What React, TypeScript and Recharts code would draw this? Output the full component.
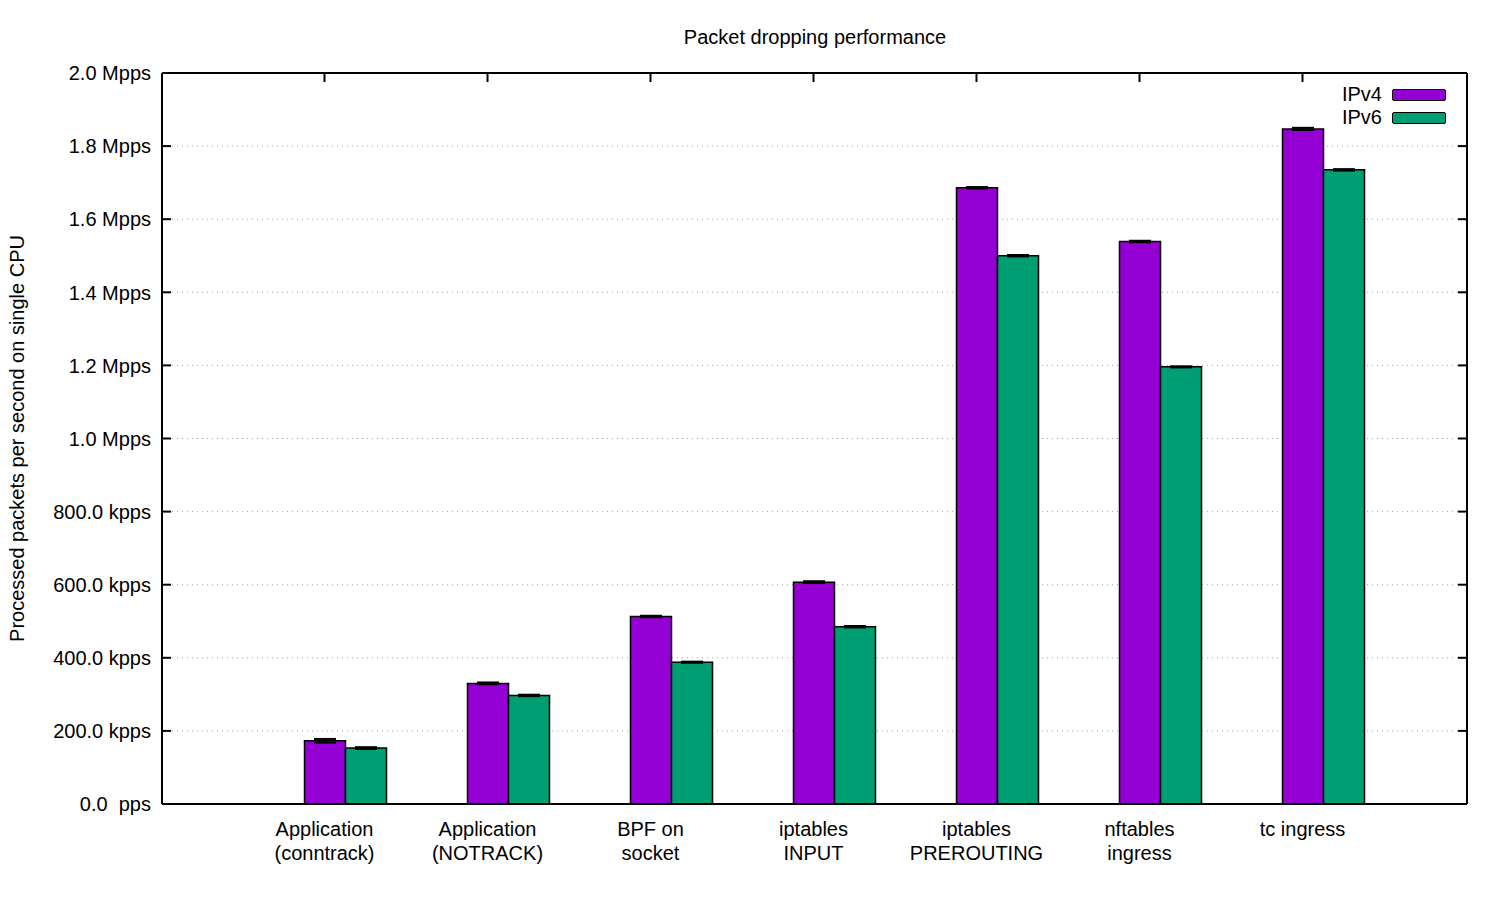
import React from 'react';
import { BarChart, Bar, XAxis, YAxis, CartesianGrid, ErrorBar } from 'recharts';

// categories (two label lines each)
const CATEGORIES = [
  ['Application', '(conntrack)'],
  ['Application', '(NOTRACK)'],
  ['BPF on', 'socket'],
  ['iptables', 'INPUT'],
  ['iptables', 'PREROUTING'],
  ['nftables', 'ingress'],
  ['tc ingress', ''],
];

// packets per second
const IPV4 = [173000, 330000, 513000, 607000, 1686000, 1539000, 1847000];
const IPV4_ERR = [5000, 2500, 2000, 2500, 2000, 2000, 3000];
const IPV6 = [153000, 297000, 388000, 485000, 1500000, 1196000, 1735000];
const IPV6_ERR = [2500, 2000, 1500, 2000, 2000, 1500, 2000];

const Y_TICKS = [0, 200000, 400000, 600000, 800000, 1000000, 1200000, 1400000, 1600000, 1800000, 2000000];

const SERIES = [
  { key: 'ipv4', err: 'ipv4Err', name: 'IPv4', color: '#9400d3' },
  { key: 'ipv6', err: 'ipv6Err', name: 'IPv6', color: '#009e73' },
];

const data = CATEGORIES.map((c, i) => ({
  cat: c.join(' '),
  lines: c,
  ipv4: IPV4[i],
  ipv4Err: IPV4_ERR[i],
  ipv6: IPV6[i],
  ipv6Err: IPV6_ERR[i],
}));

const FONT = '"Liberation Sans", Arial, sans-serif';
const FS = 20;
const PLOT_TOP = 73;
const PLOT_BOTTOM = 804;
const PLOT_LEFT = 162;
const PLOT_RIGHT = 1467;
const BAR = 41;
const TICK_LEN = 9;

const fmtY = (v: number) => {
  if (v === 0) return '0.0  pps';
  if (v >= 1000000) return `${(v / 1000000).toFixed(1)} Mpps`;
  return `${(v / 1000).toFixed(1)} kpps`;
};

const BottomTick = (props: any) => {
  const { x, payload, index } = props;
  const cx = x - BAR / 2;
  const lines = data[index] ? data[index].lines : String(payload.value).split(' ');
  return (
    <g>
      {lines.map((l: string, k: number) => (
        <text key={k} x={cx} y={PLOT_BOTTOM + 27 + k * 24} textAnchor="middle" dominantBaseline="middle"
          fontFamily={FONT} fontSize={FS} fill="#000" style={{ whiteSpace: 'pre' }}>{l}</text>
      ))}
    </g>
  );
};

const TopTick = (props: any) => {
  const cx = props.x - BAR / 2;
  return <path d={`M${cx},${PLOT_TOP}V${PLOT_TOP + TICK_LEN}`} stroke="#000" strokeWidth={2} />;
};

const LeftTick = (props: any) => {
  const { y, payload } = props;
  return (
    <text x={PLOT_LEFT - 11} y={Number(y) + 2} textAnchor="end" dominantBaseline="middle" fontFamily={FONT}
      fontSize={FS} fill="#000" style={{ whiteSpace: 'pre' }}>{fmtY(payload.value)}</text>
  );
};

// dotted grid line plus the inward tick stubs on both borders
const GridRow = (props: any) => {
  const { x1, x2, y1, y2 } = props;
  return (
    <g>
      <line x1={x1} x2={x2} y1={y1} y2={y2} stroke="#a0a0a0" strokeWidth={1} strokeDasharray="1 4" />
      <line x1={x1} x2={x1 + TICK_LEN} y1={y1} y2={y2} stroke="#000" strokeWidth={2} />
      <line x1={x2 - TICK_LEN} x2={x2} y1={y1} y2={y2} stroke="#000" strokeWidth={2} />
    </g>
  );
};

const YLabel = (props: any) => {
  const vb = props.viewBox;
  const cy = vb.y + vb.height / 2;
  return (
    <text x={19} y={cy} transform={`rotate(-90, 19, ${cy})`} textAnchor="middle" dominantBaseline="middle"
      fontFamily={FONT} fontSize={FS} fill="#000">Processed packets per second on single CPU</text>
  );
};

const frame = { stroke: '#000', strokeWidth: 2 };

export default function App() {
  return (
    <div style={{ position: 'absolute', left: 0, top: 0, width: 1500, height: 900, background: '#fff' }}>
      <div style={{ position: 'absolute', top: 25, left: 0, width: 1630, textAlign: 'center', fontFamily: FONT, fontSize: FS, lineHeight: '24px' }}>
        Packet dropping performance
      </div>
      <BarChart width={1500} height={900} data={data} barGap={0} barSize={BAR}
        margin={{ top: PLOT_TOP - 1, bottom: 900 - PLOT_BOTTOM - 60, left: PLOT_LEFT - 140, right: 1500 - PLOT_RIGHT - 1 }}>
        <CartesianGrid vertical={false} horizontal={<GridRow />} />
        <XAxis dataKey="cat" height={60} padding={{ left: 101.5, right: 62.5 }} tickLine={false}
          axisLine={frame} tick={<BottomTick />} interval={0} />
        <XAxis xAxisId="top" dataKey="cat" orientation="top" height={1} padding={{ left: 101.5, right: 62.5 }}
          tickLine={false} axisLine={frame} tick={<TopTick />} interval={0} />
        <YAxis width={140} domain={[0, 2000000]} ticks={Y_TICKS} tickLine={false} interval={0}
          axisLine={frame} tick={<LeftTick />} label={<YLabel />} />
        <YAxis yAxisId="right" orientation="right" width={1} domain={[0, 2000000]} ticks={Y_TICKS}
          tickLine={false} axisLine={frame} tick={false} />
        {SERIES.map((s) => (
          <Bar key={s.key} dataKey={s.key} name={s.name} fill={s.color} stroke="#000" strokeWidth={1.5}
            isAnimationActive={false}>
            <ErrorBar dataKey={s.err} width={11} stroke="#000" strokeWidth={2} />
          </Bar>
        ))}
      </BarChart>
      <div style={{ position: 'absolute', top: 83, left: 1300, width: 146, fontFamily: FONT, fontSize: FS }}>
        {SERIES.map((s) => (
          <div key={s.key} style={{ display: 'flex', alignItems: 'center', justifyContent: 'flex-end', height: 23 }}>
            <span style={{ marginRight: 10 }}>{s.name}</span>
            <span style={{ width: 52, height: 10, background: s.color, border: '1.5px solid #000', borderRadius: 2 }} />
          </div>
        ))}
      </div>
    </div>
  );
}
